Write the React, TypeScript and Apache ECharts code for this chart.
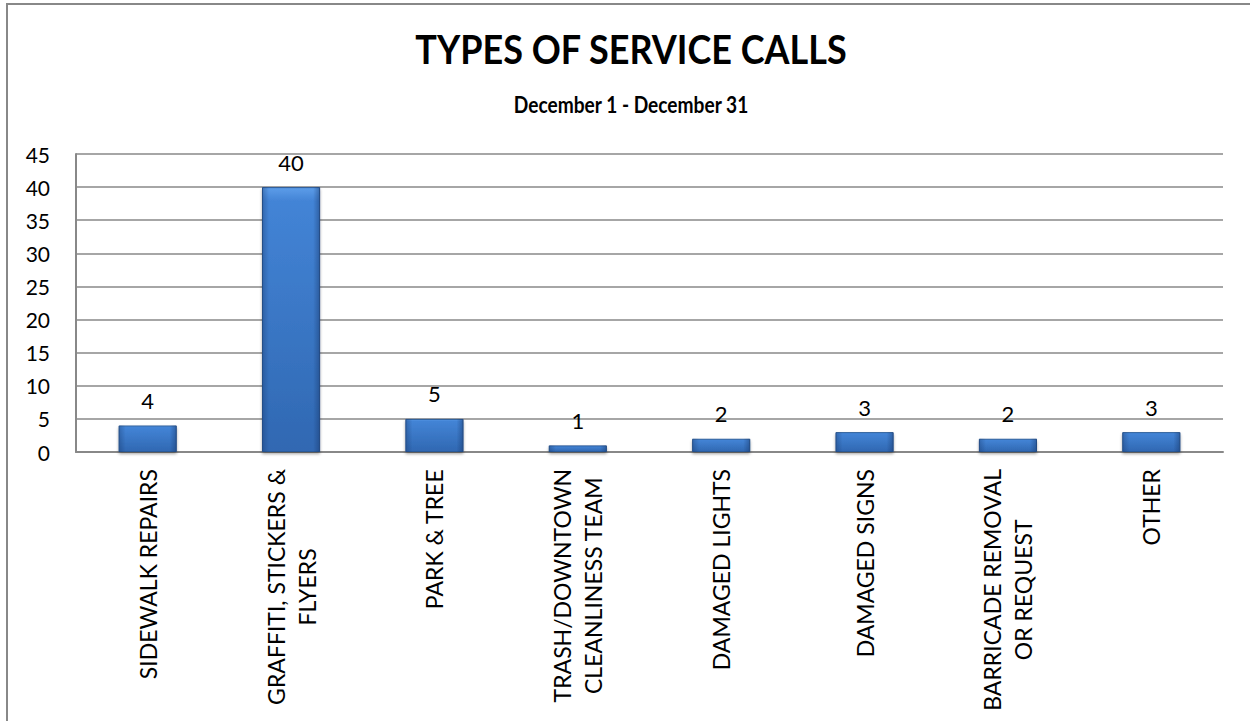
import React, { useEffect, useRef } from "react";
import * as echarts from "echarts";

const categories: string[] = [
  "SIDEWALK REPAIRS",
  "GRAFFITI, STICKERS &\nFLYERS",
  "PARK & TREE",
  "TRASH/DOWNTOWN\nCLEANLINESS TEAM",
  "DAMAGED LIGHTS",
  "DAMAGED SIGNS",
  "BARRICADE REMOVAL\nOR REQUEST",
  "OTHER",
];
const values: number[] = [4, 40, 5, 1, 2, 3, 2, 3];
const titleText = "TYPES OF SERVICE CALLS";
const subtitleText = "December 1 - December 31";

const FONT = "Lato, 'Noto Sans', sans-serif";

export default function App() {
  const ref = useRef<HTMLDivElement>(null);
  useEffect(() => {
    if (!ref.current) return;
    const chart = echarts.init(ref.current, undefined, { renderer: "svg" });
    chart.setOption({
      animation: false,
      backgroundColor: "#ffffff",
      graphic: [
        {
          type: "rect",
          shape: { x: 7, y: 4, width: 1270, height: 740 },
          style: { fill: "none", stroke: "#888888", lineWidth: 2 },
          silent: true,
        },
        {
          type: "text",
          x: 631,
          y: 48,
          scaleX: 0.9,
          style: {
            text: titleText,
            fontFamily: FONT,
            fontSize: 40,
            fontWeight: "bold",
            fill: "#000",
            align: "center",
            verticalAlign: "middle",
          },
          silent: true,
        },
        {
          type: "text",
          x: 631,
          y: 104,
          scaleX: 0.87,
          style: {
            text: subtitleText,
            fontFamily: FONT,
            fontSize: 22,
            fontWeight: "bold",
            fill: "#000",
            align: "center",
            verticalAlign: "middle",
          },
          silent: true,
        },
      ],
      grid: { left: 76, right: 27, top: 154, bottom: 269 },
      xAxis: {
        type: "category",
        data: categories,
        axisLine: { show: true, lineStyle: { color: "#888888", width: 2 } },
        axisTick: { show: false },
        axisLabel: {
          interval: 0,
          rotate: 90,
          margin: 17,
          color: "#000",
          fontFamily: FONT,
          fontSize: 23,
          lineHeight: 31,
          formatter: (v: string) =>
            v
              .split("\n")
              .map((l) => `{c|${l}}`)
              .join("\n"),
          rich: { c: { align: "center", fontFamily: FONT, fontSize: 23, lineHeight: 31, color: "#000" } },
        },
      },
      yAxis: {
        type: "value",
        min: 0,
        max: 45,
        interval: 5,
        axisLine: { show: true, lineStyle: { color: "#888888", width: 2 } },
        axisTick: { show: false },
        splitLine: { lineStyle: { color: "#888888", width: 1.5 } },
        axisLabel: { color: "#000", fontFamily: FONT, fontSize: 21, margin: 26 },
      },
      series: [
        {
          type: "bar",
          data: values,
          barWidth: "40.5%",
          itemStyle: {
            color: new echarts.graphic.LinearGradient(0, 0, 0, 1, [
              { offset: 0, color: "#5d9de9" },
              { offset: 0.05, color: "#4384d6" },
              { offset: 1, color: "#3068b2" },
            ]),
            borderColor: "#2a5a98",
            borderWidth: 1,
            shadowColor: "rgba(0,0,0,0.35)",
            shadowBlur: 3,
            shadowOffsetY: 2,
          },
          label: {
            show: true,
            position: "top",
            distance: 14,
            color: "#000",
            fontFamily: FONT,
            fontSize: 22,
          },
          z: 2,
        },
        {
          type: "bar",
          data: values,
          barWidth: "40.5%",
          barGap: "-100%",
          silent: true,
          itemStyle: {
            color: new echarts.graphic.LinearGradient(0, 0, 1, 0, [
              { offset: 0, color: "rgba(20,50,100,0.35)" },
              { offset: 0.12, color: "rgba(20,50,100,0)" },
              { offset: 0.88, color: "rgba(20,50,100,0)" },
              { offset: 1, color: "rgba(20,50,100,0.45)" },
            ]),
          },
          z: 3,
        },
      ],
    });
    return () => chart.dispose();
  }, []);
  return (
    <div
      ref={ref}
      style={{ position: "fixed", left: 0, top: 0, width: 1250, height: 721 }}
    />
  );
}
